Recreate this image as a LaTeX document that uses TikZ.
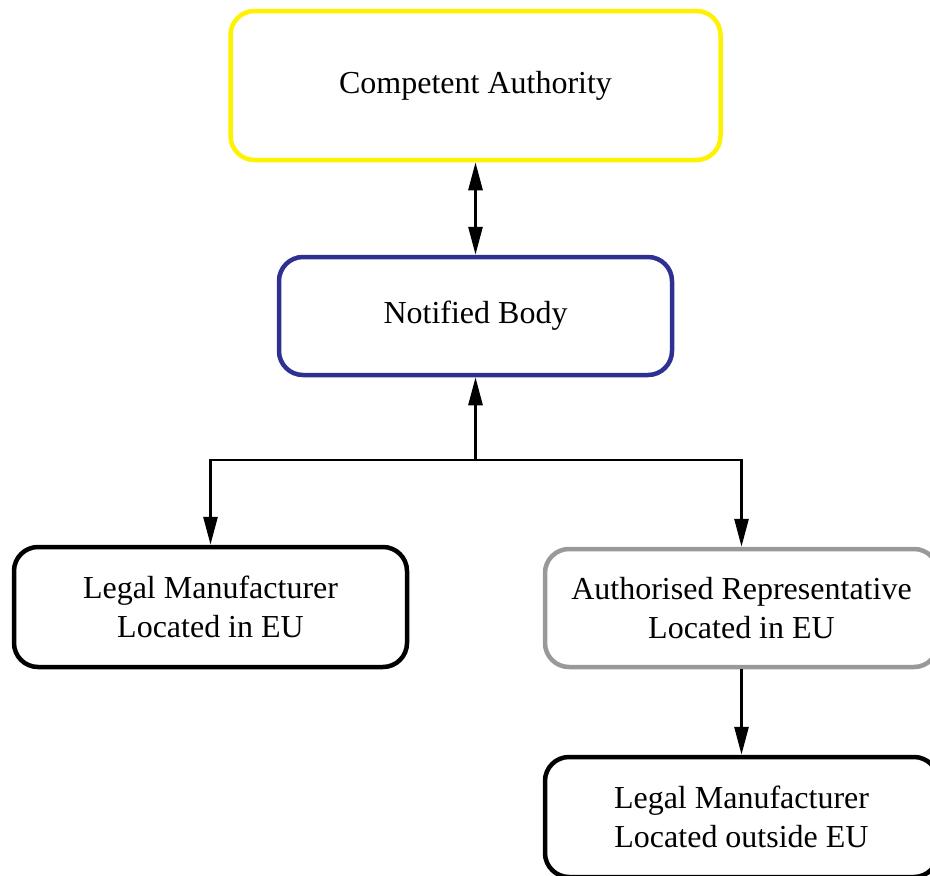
\documentclass[tikz,border=0pt]{standalone}
\usepackage{fontspec}
\setmainfont{Liberation Serif}
\usetikzlibrary{arrows.meta}
\definecolor{caYellow}{HTML}{FFF200}
\definecolor{nbBlue}{HTML}{2E3192}
\definecolor{arGray}{HTML}{999999}
\begin{document}
\begin{tikzpicture}[x=1pt,y=-1pt,
  box/.style={draw, fill=white, line width=4.5pt, rounded corners=24pt, align=center,
    font=\fontsize{32}{39}\selectfont, inner sep=0pt},
  tipshape/.style={},
  link/.style={line width=2.8pt, -{Triangle[length=28pt,width=14pt]}},
  duallink/.style={line width=2.8pt, {Triangle[length=28pt,width=14pt]}-{Triangle[length=28pt,width=14pt]}}]
\clip (0,0) rectangle (930,876);
\fill[white] (0,0) rectangle (930,876);

% organisations
\node[box, draw=caYellow, minimum width=490pt, minimum height=149pt] (ca) at (475.5,85.5) {Competent Authority};
\node[box, draw=nbBlue, minimum width=393pt, minimum height=118pt] (nb) at (475.5,316) {Notified Body};
\node[box, draw=black, minimum width=393pt, minimum height=120pt] (lmeu) at (210.5,607) {Legal Manufacturer\\Located in EU};
\node[box, draw=arGray, minimum width=393pt, minimum height=118pt] (ar) at (741.5,608) {Authorised Representative\\Located in EU};
\node[box, draw=black, minimum width=393pt, minimum height=120pt] (lmo) at (741.5,817) {Legal Manufacturer\\Located outside EU};

% relations
\coordinate (j) at (475.5,460);
\draw[duallink] (ca.south) -- (nb.north);
\draw[link] (j) -- (nb.south);
\draw[link] (j) -| (lmeu.north);
\draw[link] (j) -| (ar.north);
\draw[link] (ar.south) -- (lmo.north);
\end{tikzpicture}
\end{document}
